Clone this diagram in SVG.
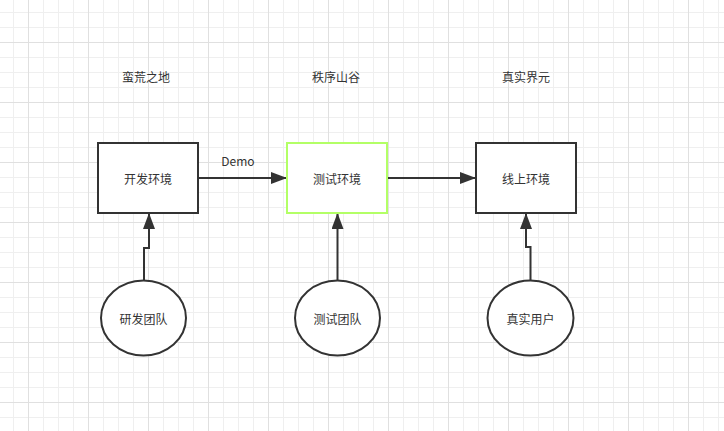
<svg xmlns="http://www.w3.org/2000/svg" width="724" height="431" viewBox="0 0 724 431">
<defs>
<pattern id="minor" x="13" y="12" width="15" height="15" patternUnits="userSpaceOnUse">
<path d="M0.5 0V15M0 0.5H15" stroke="#efefef" stroke-width="1" fill="none"/>
</pattern>
<pattern id="major" x="28" y="42" width="60" height="60" patternUnits="userSpaceOnUse">
<path d="M0.5 0V60M0 0.5H60" stroke="#e0e0e0" stroke-width="1" fill="none"/>
</pattern>
<marker id="arr" markerWidth="10" markerHeight="10" viewBox="0 0 10 10" refX="10" refY="5" orient="auto" markerUnits="userSpaceOnUse">
<path d="M0 0L10 5L0 10Z" fill="#333"/>
</marker>
<marker id="ah" viewBox="0 0 16 12" refX="16" refY="6" markerWidth="16" markerHeight="12" orient="auto" markerUnits="userSpaceOnUse">
<path d="M0 0L16 6L0 12Z" fill="#333"/>
</marker>
</defs>
<style>
.t{font-family:"Noto Sans CJK SC","Liberation Sans",sans-serif;font-size:12px;fill:#333;text-anchor:middle;dominant-baseline:central}
.box{fill:#fff;stroke:#333;stroke-width:2}
.ell{fill:#fff;stroke:#333;stroke-width:2}
.c{fill:none;stroke:#333;stroke-width:2;marker-end:url(#ah)}
</style>
<rect width="724" height="431" fill="#fff"/>
<rect width="724" height="431" fill="url(#minor)"/>
<rect width="724" height="431" fill="url(#major)"/>
<g id="titles">
<text class="t" x="146" y="76">蛮荒之地</text>
<text class="t" x="336" y="76">秩序山谷</text>
<text class="t" x="526" y="76">真实界元</text>
</g>
<g id="connectors">
<path class="c" d="M198 178H287"/>
<path class="c" d="M387 178H476"/>
<path class="c" d="M144 281V248H149V213"/>
<path class="c" d="M337.5 281V213"/>
<path class="c" d="M530.5 281V247H526V213"/>
<text class="t" x="238" y="160">Demo</text>
</g>
<g id="dev">
<rect class="box" x="98" y="143" width="100" height="70"/>
<text class="t" x="148" y="178">开发环境</text>
</g>
<g id="test">
<rect class="box" x="287" y="143" width="100" height="70" style="stroke:#b3ff66"/>
<text class="t" x="337" y="178">测试环境</text>
</g>
<g id="prod">
<rect class="box" x="476" y="143" width="100" height="70"/>
<text class="t" x="526" y="178">线上环境</text>
</g>
<g id="devteam">
<ellipse class="ell" cx="143.5" cy="318" rx="42.5" ry="37.5"/>
<text class="t" x="143.5" y="318">研发团队</text>
</g>
<g id="testteam">
<ellipse class="ell" cx="337.5" cy="318" rx="42.5" ry="37.5"/>
<text class="t" x="337.5" y="318">测试团队</text>
</g>
<g id="users">
<ellipse class="ell" cx="530.5" cy="318" rx="43" ry="37.5"/>
<text class="t" x="530.5" y="318">真实用户</text>
</g>
</svg>
